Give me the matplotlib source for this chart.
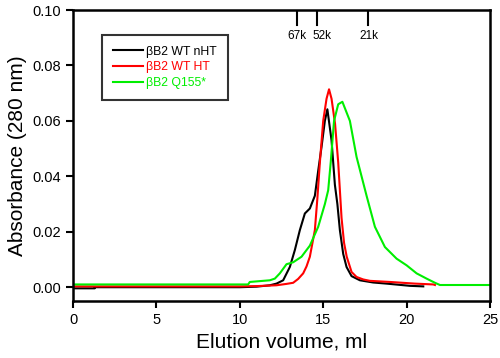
import matplotlib
matplotlib.use("Agg")
import matplotlib.pyplot as plt

plt.rcParams['font.family'] = ['Liberation Sans', 'DejaVu Sans']

# Size-exclusion traces
nht_x = [0, 1.3, 1.31, 9.0, 10.0, 11.0, 11.8, 12.2, 12.6, 13.0, 13.3, 13.6, 13.9, 14.2,
         14.5, 14.7, 14.9, 15.1, 15.25, 15.5, 15.7, 15.85, 16.0, 16.2, 16.4, 16.7, 17.2,
         18.0, 18.8, 20.2, 21.0]
nht_y = [-0.0004, -0.0004, 0.0, 0.0, 0.0, 0.0002, 0.0007, 0.0013, 0.0025, 0.0073, 0.0134,
         0.0206, 0.0266, 0.0284, 0.033, 0.042, 0.0506, 0.060, 0.0642, 0.053, 0.037, 0.030,
         0.0206, 0.012, 0.0073, 0.004, 0.0025, 0.0017, 0.0013, 0.0005, 0.0003]

ht_x = [0, 10.0, 11.0, 12.2, 12.8, 13.2, 13.5, 13.8, 14.0, 14.2, 14.5, 14.65, 14.8, 15.0,
        15.2, 15.35, 15.5, 15.71, 15.9, 16.0, 16.1, 16.25, 16.41, 16.7, 17.0, 17.4, 17.8,
        19.0, 20.5, 21.6, 21.7]
ht_y = [0.0003, 0.0003, 0.0004, 0.0007, 0.0012, 0.0016, 0.003, 0.005, 0.0075, 0.011, 0.0206,
        0.032, 0.045, 0.060, 0.068, 0.0714, 0.068, 0.059, 0.045, 0.035, 0.025, 0.016, 0.011,
        0.0055, 0.0037, 0.0028, 0.0023, 0.0019, 0.0013, 0.001, 0.0008]

q155_x = [0, 10.5, 10.6, 11.8, 12.1, 12.4, 12.8, 13.2, 13.7, 14.2, 14.7, 15.1, 15.3, 15.45,
          15.65, 15.9, 16.15, 16.6, 17.0, 17.3, 17.6, 18.1, 18.7, 19.4, 20.0, 20.6, 21.2,
          21.7, 22.0, 25.0]
q155_y = [0.0010, 0.0010, 0.0019, 0.0025, 0.0031, 0.005, 0.0083, 0.009, 0.011, 0.015, 0.0218,
          0.030, 0.035, 0.045, 0.060, 0.066, 0.0669, 0.060, 0.047, 0.040, 0.033, 0.0218,
          0.0145, 0.0103, 0.0079, 0.005, 0.0031, 0.0016, 0.0008, 0.0008]

# Molecular weight standards
mw_labels = ["67k", "52k", "21k"]
mw_pos = [13.41, 14.6, 17.67]
mw_label_pos = [13.45, 14.95, 17.75]

fig = plt.figure(figsize=(5, 3.58), dpi=100)
ax = fig.add_axes([0.146, 0.159, 0.834, 0.813])

ax.plot(nht_x, nht_y, color='black', lw=1.5, label='βB2 WT nHT')
ax.plot(ht_x, ht_y, color='red', lw=1.5, label='βB2 WT HT')
ax.plot(q155_x, q155_y, color='#00ee00', lw=1.5, label='βB2 Q155*')

for p, lp, lab in zip(mw_pos, mw_label_pos, mw_labels):
    ax.plot([p, p], [0.1, 0.0946], color='black', lw=1.5)
    ax.text(lp, 0.0905, lab, ha='center', va='center', fontsize=8.5)

ax.set_xlim(0, 25)
ax.set_ylim(-0.005, 0.10)
ax.set_xticks([0, 5, 10, 15, 20, 25])
ax.set_yticks([0.0, 0.02, 0.04, 0.06, 0.08, 0.10])
ax.set_yticklabels(['0.00', '0.02', '0.04', '0.06', '0.08', '0.10'])
ax.tick_params(labelsize=10.5, width=1.5, length=5)
for s in ax.spines.values():
    s.set_linewidth(1.8)

ax.set_xlabel('Elution volume, ml', fontsize=15, labelpad=4)
ax.set_ylabel('Absorbance (280 nm)', fontsize=15, labelpad=4)

leg = ax.legend(loc='upper left', bbox_to_anchor=(0.07, 0.915), fontsize=8.8,
                frameon=True, fancybox=False, handlelength=2.4, handletextpad=0.3,
                borderpad=0.9, labelspacing=0.3, borderaxespad=0)
leg.get_frame().set_edgecolor('black')
leg.get_frame().set_linewidth(1.5)
for txt, c in zip(leg.get_texts(), ['black', 'red', '#00ee00']):
    txt.set_color(c)

fig.savefig('out.png', dpi=100)
